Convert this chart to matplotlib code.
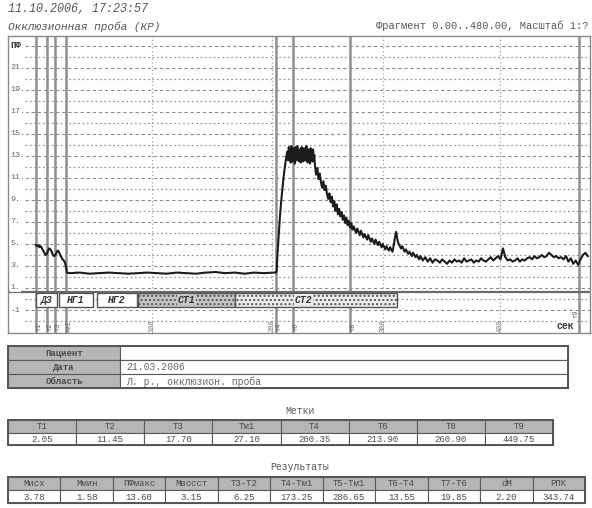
import numpy as np
import matplotlib.pyplot as plt
from matplotlib.patches import Rectangle

# --- data ------------------------------------------------------------------
header_date = "11.10.2006, 17:23:57"
header_title = "Окклюзионная проба (КР)"
header_frag = "Фрагмент 0.00..480.00, Масштаб 1:?"

# trace: baseline, occlusion, hyperemia peak, recovery
base_t = [2, 3, 4, 5, 6, 7, 8, 9, 10, 11, 12, 13, 14, 15, 16, 17, 18, 19, 20,
          21, 22, 23, 24, 25, 26, 27, 27.5]
base_v = [4.9, 4.8, 4.9, 4.7, 4.8, 4.6, 4.4, 4.2, 4.0, 4.1, 4.4, 4.6, 4.5, 4.3,
          4.0, 3.9, 4.0, 4.2, 4.4, 4.3, 4.0, 3.8, 3.6, 3.5, 3.3, 2.8, 2.4]

occl_t = [30, 38, 46, 54, 62, 70, 78, 86, 94, 102, 110, 118, 126, 134, 142,
          150, 158, 166, 174, 182, 190, 198, 200]
occl_v = [2.35, 2.4, 2.3, 2.35, 2.4, 2.35, 2.3, 2.35, 2.4, 2.35, 2.3, 2.4,
          2.35, 2.3, 2.4, 2.45, 2.35, 2.4, 2.3, 2.4, 2.35, 2.4, 2.4]

rise_t = [200.5, 201, 202, 203, 204, 205, 206, 207, 208, 209]
rise_v = [2.6, 3.8, 5.5, 7.2, 8.6, 9.8, 10.9, 11.8, 12.6, 13.3]

peak_t = np.arange(209.5, 232.5, 0.5)
peak_v = [13.4, 12.6, 13.8, 12.9, 13.6, 12.4, 13.9, 13.1, 12.5, 13.7,
          12.8, 13.5, 12.3, 13.8, 13.0, 12.6, 13.9, 12.7, 13.4, 12.5,
          13.6, 13.1, 12.4, 13.8, 12.9, 13.3, 12.5, 13.7, 12.8, 13.5,
          12.6, 13.9, 13.0, 12.4, 13.6, 12.9, 13.4, 12.3, 13.7, 12.8,
          13.2, 12.5, 13.6, 12.7, 13.1, 12.2]

decl_t = [233, 234, 235, 236, 237, 238, 239, 240, 241, 242, 243, 244, 245, 246,
          247, 248, 249, 250, 251, 252, 253, 254, 255, 256, 257, 258, 259, 260,
          261, 262, 263, 264, 266, 267, 269, 270, 272, 273, 275, 276, 278, 279,
          281, 282, 284, 285, 287, 288, 290, 291, 293, 294, 296, 297, 298, 299,
          300, 301, 303, 304, 306, 307, 309, 310, 312, 313, 315, 316, 318, 319,
          321, 323, 325, 327, 329, 331]
decl_v = [11.3, 11.9, 10.9, 11.4, 10.6, 10.1, 10.7, 9.9, 10.3, 9.5, 9.1, 9.6,
          8.8, 9.3, 8.4, 8.9, 8.0, 8.6, 7.7, 8.2, 7.5, 7.9, 7.2, 7.6, 6.9, 7.4,
          6.7, 7.1, 6.5, 6.9, 6.3, 6.6, 6.0, 6.4, 5.8, 6.2, 5.6, 5.9, 5.4, 5.8,
          5.2, 5.5, 5.0, 5.4, 4.9, 5.2, 4.7, 5.0, 4.5, 4.8, 4.4, 4.7, 4.3, 4.9,
          5.6, 6.1, 5.4, 5.0, 4.6, 4.8, 4.3, 4.5, 4.1, 4.3, 3.9, 4.2, 3.8, 4.0,
          3.6, 3.9, 3.5, 3.8, 3.4, 3.7, 3.3, 3.6]

rest_t = np.arange(333, 458, 2)
rest_v = [3.5, 3.3, 3.6, 3.4, 3.2, 3.5, 3.3, 3.6, 3.4, 3.5, 3.3, 3.7, 3.4,
          3.5, 3.6, 3.3, 3.5, 3.4, 3.7, 3.5, 3.4, 3.6, 3.8, 3.5, 3.7, 3.9,
          3.6, 4.6, 3.8, 3.5, 3.6, 3.4, 3.5, 3.7, 3.4, 3.6, 3.5, 3.7, 3.8,
          3.6, 3.9, 3.7, 3.8, 4.0, 3.8, 3.9, 4.2, 4.0, 3.8, 3.9, 3.7, 3.8,
          3.6, 3.9, 3.4, 3.7, 3.2, 3.5, 3.1, 3.6, 4.0, 4.2, 3.9]

# markers (s)
mark_names = ["Т1", "Т2", "Т3", "Тм1", "Т4", "Т6", "Т8", "Т9"]
mark_times = [2.05, 11.45, 17.70, 27.10, 200.35, 213.90, 260.90, 449.75]
mark_labels = ["т1", "т2", "т3", "тм1", "т4", "т6", "т8", "т9"]

grid_times = [97.7, 196.6, 288.0, 384.6]
grid_labels = ["100", "200", "300", "400"]

# stage band
stage_names = ["ДЗ", "НГ1", "НГ2", "СТ1", "СТ2"]
stage_start = [2.05, 21.0, 52.0, 86.0, 166.0]
stage_end = [19.0, 49.0, 85.0, 166.0, 300.0]
stage_fill = ["white", "white", "white", "#c4c4c4", "#ececec"]

y_ticks = [21, 19, 17, 15, 13, 11, 9, 7, 5, 3, 1]

# tables
patient_rows = ["Пациент", "Дата", "Область"]
patient_vals = ["", "21.03.2006", "Л. р., окклюзион. проба"]

res_names = ["Мисх", "Ммин", "ПФмакс", "Мвосст", "Т3-Т2", "Т4-Тм1", "Т5-Тм1",
             "Т6-Т4", "Т7-Т6", "dM", "РПК"]
res_vals = ["3.78", "1.58", "13.60", "3.15", "6.25", "173.25", "286.65",
            "13.55", "19.85", "2.20", "343.74"]

mono = "Liberation Mono"
txt = "#4a4a4a"
gridc = "#8c8c8c"

fig = plt.figure(figsize=(5.92, 5.08), dpi=100)
W, H = 592, 508

# --- recording axes ---------------------------------------------------------
ax = fig.add_axes([8 / W, 1 - 333 / H, 582 / W, 297 / H])
ax.set_xlim(-21.0, 458.8)
ax.set_ylim(-3.09, 23.9)
ax.set_xticks([])
ax.set_yticks([])
for s in ax.spines.values():
    s.set_color("#8a8a8a")
    s.set_linewidth(1.0)

for v in range(-2, 24):
    if v % 2 == 1 or v == -1:
        ax.hlines(v, -7, 458.8, colors=gridc, linestyles=(0, (3, 2.5)), lw=0.8)
    else:
        ax.hlines(v, -7, 458.8, colors="#9a9a9a", linestyles=(0, (1.5, 2)), lw=0.9)

for gt, gl in zip(grid_times, grid_labels):
    ax.vlines(gt, -3.1, 23.9, colors="#a0a0a0", linestyles=(0, (1, 2)), lw=0.9)
    ax.text(gt, -2.4, gl, rotation=90, ha="center", va="center", fontsize=5,
            family=mono, color="#777777")

for tm, lab in zip(mark_times, mark_labels):
    ax.vlines(tm, -3.1, 23.9, colors="#8f8f8f", lw=1.8)
    ly = -1.3 if lab == "т9" else -2.5
    ax.text(tm - 2.8 if lab == "т9" else tm + 2.5, ly, lab, rotation=90,
            ha="center", va="center", fontsize=5, family=mono, color="#666666")

# separator and stage band
ax.axhline(0.64, color="#6a6a6a", lw=1.6)
for name, a, b, fc in zip(stage_names, stage_start, stage_end, stage_fill):
    r = Rectangle((a, -0.73), b - a, 1.3, facecolor=fc, edgecolor="#555555",
                  lw=1.0, hatch="...." if name.startswith("СТ") else None)
    r.set_zorder(3)
    ax.add_patch(r)
    cx = (a + b) / 2 if name != "СТ2" else a + 0.42 * (b - a)
    ax.text(cx, -0.05, name, ha="center", va="center", fontsize=7,
            family=mono, style="italic", fontweight="bold", color="#333333",
            zorder=4, bbox=dict(facecolor=fc, edgecolor="none", pad=0.5))

# trace
trace_t = np.concatenate([base_t, occl_t, rise_t, peak_t, decl_t, rest_t])
trace_v = np.concatenate([base_v, occl_v, rise_v, peak_v, decl_v, rest_v])
ax.plot(trace_t, trace_v, color="#1c1c1c", lw=1.5, zorder=5)

# y labels inside the box
ax.text(-19, 23, "ПФ", fontsize=6.5, family=mono, fontweight="bold",
        color="#333333", va="center", ha="left")
for v in y_ticks:
    ax.text(-19, v, f"{v}.", fontsize=6, family=mono, color="#666666",
            va="center", ha="left",
            bbox=dict(facecolor="white", edgecolor="none", pad=0.3))
ax.text(-19, -1, "-1", fontsize=6, family=mono, color="#666666",
        va="center", ha="left")
ax.text(446, -2.45, "сек", fontsize=7, family=mono, fontweight="bold",
        color="#333333", va="center", ha="right",
        bbox=dict(facecolor="white", edgecolor="none", pad=0.3))

# --- overlay in pixel coordinates for header and tables ---------------------
ov = fig.add_axes([0, 0, 1, 1], facecolor="none")
ov.set_xlim(0, W)
ov.set_ylim(H, 0)
ov.axis("off")

ov.text(8, 9, header_date, fontsize=8.5, family=mono, style="italic",
        color="#555555", va="center")
ov.text(8, 27, header_title, fontsize=8, family=mono, style="italic",
        color="#555555", va="center")
ov.text(588, 26, header_frag, fontsize=7.5, family=mono, color="#555555",
        va="center", ha="right")


def cell(x, y, w, h, text, fill, bold=False):
    ov.add_patch(Rectangle((x, y), w, h, facecolor=fill, edgecolor="#5a5a5a",
                           lw=0.8))
    ov.text(x + w / 2, y + h / 2 + 0.5, text, ha="center", va="center",
            fontsize=6.5, family=mono, color=txt,
            fontweight="bold" if bold else "normal")


# patient table
py0, ph = 346, 14
for i, (lab, val) in enumerate(zip(patient_rows, patient_vals)):
    cell(8, py0 + i * ph, 112, ph, lab, "#b6b6b6", bold=True)
    ov.add_patch(Rectangle((120, py0 + i * ph), 448, ph, facecolor="white",
                           edgecolor="#5a5a5a", lw=0.8))
    ov.text(126, py0 + i * ph + ph / 2 + 0.5, val, ha="left", va="center",
            fontsize=7, family=mono, color="#666666")
ov.add_patch(Rectangle((8, py0), 560, 3 * ph, facecolor="none",
                       edgecolor="#555555", lw=1.4))

# marks table
ov.text(300, 411, "Метки", ha="center", va="center", fontsize=7,
        family=mono, color="#555555")
mx0, mw, my0, mh = 8, 545 / 8, 420, 12.5
for i, (n, tv) in enumerate(zip(mark_names, mark_times)):
    cell(mx0 + i * mw, my0, mw, mh, n, "#b6b6b6")
    cell(mx0 + i * mw, my0 + mh, mw, mh, f"{tv:.2f}", "white")
ov.add_patch(Rectangle((mx0, my0), 545, 2 * mh, facecolor="none",
                       edgecolor="#555555", lw=1.4))

# results table
ov.text(300, 467, "Результаты", ha="center", va="center", fontsize=7,
        family=mono, color="#555555")
rx0, rw, ry0, rh = 8, 577 / 11, 477, 13
for i, (n, rv) in enumerate(zip(res_names, res_vals)):
    cell(rx0 + i * rw, ry0, rw, rh, n, "#b6b6b6")
    cell(rx0 + i * rw, ry0 + rh, rw, rh, rv, "white")
ov.add_patch(Rectangle((rx0, ry0), 577, 2 * rh, facecolor="none",
                       edgecolor="#555555", lw=1.4))

plt.savefig("out.png", dpi=100)
